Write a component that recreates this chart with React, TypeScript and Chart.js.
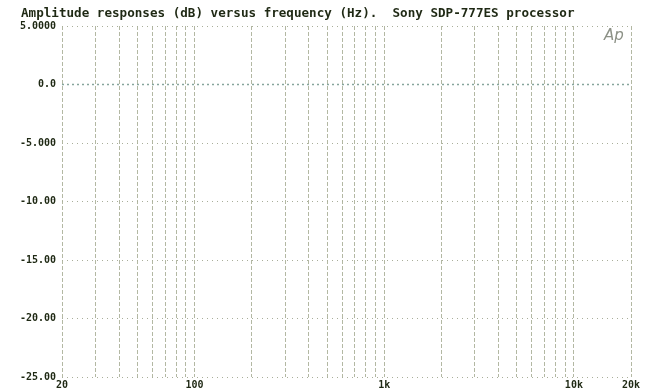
import { useEffect, useRef } from "react";
import { Chart, registerables } from "chart.js";

Chart.register(...registerables);

const titleText = "Amplitude responses (dB) versus frequency (Hz).  Sony SDP-777ES processor";
const logoText = "Ap";
const traceFreqs = [20, 50, 100, 200, 500, 1000, 2000, 5000, 10000, 20000];
const traceLevels = [0, 0, 0, 0, 0, 0, 0, 0, 0, 0];
const gridFreqs = [20, 30, 40, 50, 60, 70, 80, 90, 100, 200, 300, 400, 500, 600, 700, 800, 900, 1000, 2000, 3000, 4000, 5000, 6000, 7000, 8000, 9000, 10000, 20000];
const xTickValues = [20, 100, 1000, 10000, 20000];
const xTickLabels = ["20", "100", "1k", "10k", "20k"];
const yTicks = [5, 0, -5, -10, -15, -20, -25];
const yTickLabels = ["5.0000", "0.0", "-5.000", "-10.00", "-15.00", "-20.00", "-25.00"];

const textColor = "#1f2914";
const monoFont = "'DejaVu Sans Mono', 'Liberation Mono', monospace";

const overlayPlugin = {
  id: "overlay",
  afterDraw(chart: any) {
    const ctx = chart.ctx;
    ctx.save();
    ctx.fillStyle = textColor;
    ctx.font = `bold 12.6px ${monoFont}`;
    ctx.textBaseline = "middle";
    ctx.textAlign = "left";
    ctx.fillText(titleText, 21, 14);
    ctx.fillStyle = "#8c9186";
    ctx.font = "italic 15px 'DejaVu Sans', sans-serif";
    ctx.fillText(logoText, 604, 36);
    ctx.restore();
  },
};

export default function App() {
  const ref = useRef<HTMLCanvasElement | null>(null);
  useEffect(() => {
    if (!ref.current) return;
    const chart = new Chart(ref.current, {
      type: "line",
      data: {
        datasets: [
          {
            data: traceFreqs.map((f, i) => ({ x: f, y: traceLevels[i] })),
            borderColor: "#86a59c",
            borderWidth: 1.5,
            borderDash: [2, 3],
            pointRadius: 0,
            fill: false,
          },
        ],
      },
      options: {
        animation: false,
        responsive: false,
        events: [],
        layout: { padding: { left: 0, right: 21, top: 26, bottom: 0 } },
        plugins: { legend: { display: false }, tooltip: { enabled: false }, title: { display: false } },
        scales: {
          x: {
            type: "logarithmic",
            min: 20,
            max: 20000,
            afterBuildTicks: (s: any) => {
              s.ticks = gridFreqs.map((v) => ({ value: v }));
            },
            afterFit: (s: any) => {
              s.height = 14;
            },
            ticks: {
              autoSkip: false,
              maxRotation: 0,
              minRotation: 0,
              padding: 2,
              color: textColor,
              font: { family: monoFont, size: 10, weight: "bold" },
              callback: (v: any) => {
                const i = xTickValues.indexOf(Number(v));
                return i >= 0 ? xTickLabels[i] : "";
              },
            },
            grid: { color: "#b3b8a3", lineWidth: 1, drawTicks: false },
            border: { display: false, dash: [4, 2] },
          },
          y: {
            type: "linear",
            min: -25,
            max: 5,
            afterBuildTicks: (s: any) => {
              s.ticks = yTicks.map((v) => ({ value: v }));
            },
            afterFit: (s: any) => {
              s.width = 62;
            },
            ticks: {
              padding: 6,
              color: textColor,
              font: { family: monoFont, size: 10, weight: "bold" },
              callback: (v: any) => {
                const i = yTicks.indexOf(Number(v));
                return i >= 0 ? yTickLabels[i] : "";
              },
            },
            grid: { color: "#a9ae9a", lineWidth: 1, drawTicks: false },
            border: { display: false, dash: [1, 4] },
          },
        },
      },
      plugins: [overlayPlugin],
    } as any);
    return () => chart.destroy();
  }, []);
  return (
    <div style={{ position: "absolute", left: 0, top: 0, width: 652, height: 391, background: "#fff" }}>
      <canvas ref={ref} width={652} height={391} style={{ display: "block" }} />
    </div>
  );
}
